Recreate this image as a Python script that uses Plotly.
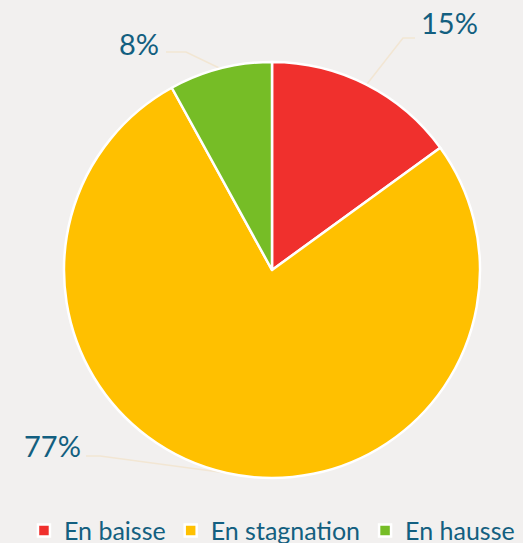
import math
import plotly.graph_objects as go

# données
categories = ["En baisse", "En stagnation", "En hausse"]
valeurs = [15, 77, 8]
couleurs = ["#f0302d", "#ffc000", "#76bd26"]

W, H = 523, 543
CX, CY, R = 272, 270, 208  # centre et rayon du camembert en pixels

# position des étiquettes (px) : centre du texte, coude, fin de la ligne
etiquettes_pos = [(449, 22, 403, 38, 415), (52, 445, 100, 456, 86), (139, 43, 186, 52, 166)]

fig = go.Figure()

fig.add_trace(go.Pie(
    labels=categories,
    values=valeurs,
    marker=dict(colors=couleurs, line=dict(color="white", width=2.5)),
    sort=False,
    direction="clockwise",
    rotation=0,
    textinfo="none",
    hoverinfo="label+percent",
    domain=dict(x=[(CX - R) / W, (CX + R) / W], y=[(H - CY - R) / H, (H - CY + R) / H]),
))

total = sum(valeurs)
cumul = 0
for v, (tx, ty, ex, ey, lx) in zip(valeurs, etiquettes_pos):
    mid = (cumul + v / 2) / total * 2 * math.pi
    cumul += v
    px = CX + R * math.sin(mid)
    py = CY - R * math.cos(mid)
    fig.add_shape(
        type="path",
        xref="paper", yref="paper",
        path=f"M {px / W} {1 - py / H} L {ex / W} {1 - ey / H} L {lx / W} {1 - ey / H}",
        line=dict(color="#f2e6d3", width=1.5),
        layer="below",
    )
    fig.add_annotation(
        x=tx / W, y=1 - ty / H, xref="paper", yref="paper",
        xanchor="center", yanchor="middle",
        text=f"{round(v / total * 100)}%", showarrow=False,
        font=dict(size=29, color="#135f80"),
    )

fig.update_layout(
    width=W, height=H,
    margin=dict(l=0, r=0, t=0, b=0, autoexpand=False),
    paper_bgcolor="#f2f0ef",
    plot_bgcolor="#f2f0ef",
    font=dict(family="Lato, Open Sans, sans-serif", color="#135f80"),
    showlegend=True,
    legend=dict(
        orientation="h", x=0.52, xanchor="center", y=-0.02, yanchor="bottom",
        font=dict(size=25, color="#135f80"),
        itemwidth=30, tracegroupgap=0,
    ),
)

fig.write_html("out.html", config={"displayModeBar": False},
               post_script="document.body.style.margin='0';")
